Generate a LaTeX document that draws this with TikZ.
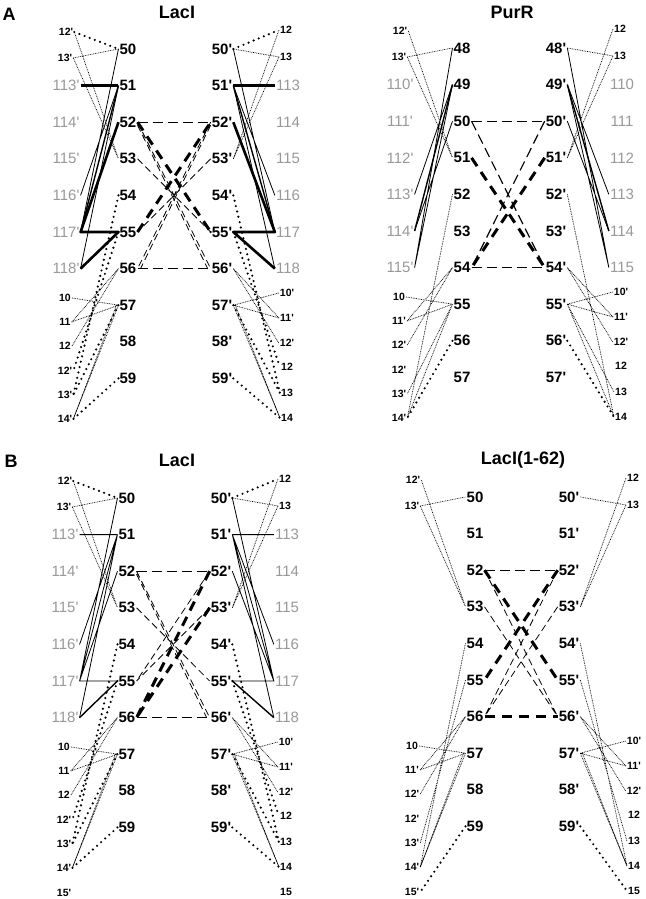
\documentclass[tikz,border=0pt]{standalone}
\usepackage{fontspec}
\setmainfont{Liberation Sans}
\definecolor{lblgray}{gray}{0.6}
\newcommand{\prm}{\textquotesingle}
\tikzset{
  num/.style={font=\fontsize{15}{16}\selectfont\bfseries, inner sep=1pt},
  gry/.style={font=\fontsize{15}{16}\selectfont, text=lblgray, inner sep=1pt},
  sml/.style={font=\fontsize{10.5}{11}\selectfont\bfseries, inner sep=1pt},
  ttl/.style={font=\fontsize{18}{20}\selectfont\bfseries},
  thn/.style={line width=0.8pt},
  med/.style={line width=1.4pt},
  thk/.style={line width=2.6pt, line join=round},
  fdot/.style={line width=0.7pt, dash pattern=on 0.8pt off 0.9pt},
  bigdot/.style={line width=2.4pt, line cap=round, dash pattern=on 0pt off 5.5pt},
  dsh/.style={line width=1.2pt, dash pattern=on 10pt off 5pt},
  dsht/.style={line width=0.8pt, dash pattern=on 7pt off 4pt},
  dshk/.style={line width=3pt, dash pattern=on 10pt off 7pt}
}
\begin{document}
\begin{tikzpicture}[x=1pt,y=-1pt]
  \fill[white] (0,0) rectangle (645,899);
  \useasboundingbox (0,0) rectangle (645,899);
  % titles
  \node[ttl] (lA) at (9,14) {A};
  \node[ttl] (lB) at (11,461) {B};
  \node[ttl] (tAL) at (177,12) {LacI};
  \node[ttl] (tAR) at (512,12) {PurR};
  \node[ttl] (tBL) at (177,460) {LacI};
  \node[ttl] (tBR) at (523,460) {LacI(1-62)};

  % ---- A, LacI ----
  \begin{scope}
    \foreach \n [count=\i from 0] in {50,...,59} {
      \node[num] (a\n) at (128,49+36.6*\i) {\n};
      \node[num] (ap\n) at (222,49+36.6*\i) {\n\prm};
    }
    \foreach \n [count=\i] in {113,...,118} {
      \node[gry] (ag\n) at (66,49+36.6*\i) {\n\prm};
      \node[gry] (ah\n) at (288,49+36.6*\i) {\n};
    }
    \node[sml] (atl1) at (66,32) {12\prm};
    \node[sml] (atl2) at (65,58) {13\prm};
    \node[sml] (atr1) at (286,30) {12};
    \node[sml] (atr2) at (286,57) {13};
    \foreach \t/\y [count=\i] in {10/298, 11/322, 12/346, 12\prm/371, 13\prm/395, 14\prm/419}
      \node[sml] (abl\i) at (65,\y) {\t};
    \foreach \t/\y [count=\i] in {10\prm/293, 11\prm/318, 12\prm/343, 12/367, 13/393, 14/418}
      \node[sml] (abr\i) at (287,\y) {\t};
    % top contacts
    \draw[bigdot] (atl1.east) -- (a50.west) (ap50.east) -- (atr1.west);
    \draw[fdot] (atl2.east) -- (a50.west) (atl1.east) -- (a53.west) (atl2.east) -- (a53.west);
    \draw[fdot] (atr2.west) -- (ap50.east) (atr1.west) -- (ap53.east) (atr2.west) -- (ap53.east);
    % helix contacts
    \draw[thn] (a50.west) -- (ag117.east) (a51.west) -- (ag116.east) (a51.west) -- (ag118.east);
    \draw[med] (a51.west) -- (ag117.east);
    \draw[thk] (ag113.east) -- (a51.west);
    \draw[thk] (a52.west) -- (ag117.east) -- (a55.west) -- (ag118.east);
    \draw[thn] (ap50.east) -- (ah117.west) (ap51.east) -- (ah116.west) (ap51.east) -- (ah118.west);
    \draw[med] (ap51.east) -- (ah117.west);
    \draw[thk] (ah113.west) -- (ap51.east);
    \draw[thk] (ap52.east) -- (ah117.west) -- (ap55.east) -- (ah118.west);
    % hinge
    \draw[dsh] (a52.east) -- (ap52.west);
    \draw[dsh] (a56.east) -- (ap56.west);
    \draw[dsht] (a52.east) -- (ap56.west) ([yshift=-3pt]a52.east) -- ([xshift=-3pt]ap56.west);
    \draw[dsht] (ap52.west) -- (a56.east) ([yshift=-3pt]ap52.west) -- ([xshift=3pt]a56.east);
    \draw[dsht] (a53.east) -- (ap55.west) (ap53.west) -- (a55.east);
    \draw[dshk] (a52.east) -- (ap55.west);
    \draw[dshk] (a55.east) -- (ap52.west);
    \fill (ap55.west) circle (1.3pt);
    % lower contacts
    \draw[fdot] (abl1.east) -- (a57.west) (abl2.east) -- (a57.west) (abl2.east) -- (a56.west)
      (abl3.east) -- (a56.west) (a57.west) -- (abl6.east) ([xshift=-2pt]a57.west) -- (abl6.east);
    \draw[bigdot] (a54.west) -- (abl5.east) (a55.west) -- (abl4.east) (a57.west) -- (abl5.east) (a59.west) -- (abl6.east);
    \draw[fdot] (abr1.west) -- (ap57.east) (abr2.west) -- (ap57.east) (abr2.west) -- (ap56.east)
      (abr3.west) -- (ap56.east) (ap57.east) -- (abr6.west) ([xshift=2pt]ap57.east) -- (abr6.west);
    \draw[bigdot] (ap54.east) -- (abr5.west) (ap55.east) -- (abr4.west) (ap57.east) -- (abr5.west) (ap59.east) -- (abr6.west);
  \end{scope}

  % ---- A, PurR ----
  \begin{scope}[shift={(334,-1)}]
    \foreach \n [count=\i from 0] in {48,...,57} {
      \node[num] (b\n) at (128,49+36.6*\i) {\n};
      \node[num] (bp\n) at (222,49+36.6*\i) {\n\prm};
    }
    \foreach \n [count=\i] in {110,...,115} {
      \node[gry] (bg\n) at (66,49+36.6*\i) {\n\prm};
      \node[gry] (bh\n) at (288,49+36.6*\i) {\n};
    }
    \node[sml] (btl1) at (66,32) {12\prm};
    \node[sml] (btl2) at (65,58) {13\prm};
    \node[sml] (btr1) at (286,30) {12};
    \node[sml] (btr2) at (286,57) {13};
    \foreach \t/\y [count=\i] in {10/298, 11\prm/322, 12\prm/346, 12\prm/371, 13\prm/395, 14\prm/419}
      \node[sml] (bbl\i) at (65,\y) {\t};
    \foreach \t/\y [count=\i] in {10\prm/293, 11\prm/318, 12\prm/343, 12/367, 13/393, 14/418}
      \node[sml] (bbr\i) at (287,\y) {\t};
    % top contacts
    \draw[fdot] (btl2.east) -- (b48.west) (btl1.east) -- (b51.west) (btl2.east) -- (b51.west);
    \draw[fdot] (btr2.west) -- (bp48.east) (btr1.west) -- (bp51.east) (btr2.west) -- (bp51.east);
    % helix contacts
    \draw[thn] (b48.west) -- (bg115.east) (b49.west) -- (bg113.east) (b49.west) -- (bg115.east) (b50.west) -- (bg114.east);
    \draw[med] (b49.west) -- (bg114.east);
    \draw[thn] (bp48.east) -- (bh115.west) (bp49.east) -- (bh113.west) (bp49.east) -- (bh115.west) (bp50.east) -- (bh114.west);
    \draw[med] (bp49.east) -- (bh114.west);
    % hinge
    \draw[dsh] (b50.east) -- (bp50.west);
    \draw[dsh] (b54.east) -- (bp54.west);
    \draw[dsh] (b50.east) -- (bp54.west) (bp50.west) -- (b54.east);
    \draw[dshk] (b51.east) -- (bp54.west);
    \draw[dshk] (bp51.west) -- (b54.east);
    % lower contacts
    \draw[fdot] (bbl1.east) -- (b55.west) (bbl2.east) -- (b55.west) (bbl2.east) -- (b54.west)
      (bbl3.east) -- (b54.west) (b52.west) -- (bbl6.east) (b55.west) -- (bbl5.east) (b55.west) -- (bbl6.east);
    \draw[bigdot] (b56.west) -- (bbl6.east);
    \draw[fdot] (bbr1.west) -- (bp55.east) (bbr2.west) -- (bp55.east) (bbr2.west) -- (bp54.east)
      (bbr3.west) -- (bp54.east) (bp52.east) -- (bbr6.west) (bp55.east) -- (bbr5.west) (bp55.east) -- (bbr6.west);
    \draw[bigdot] (bp56.east) -- (bbr6.west);
  \end{scope}

  % ---- B, LacI ----
  \begin{scope}[shift={(-1,449)}]
    \foreach \n [count=\i from 0] in {50,...,59} {
      \node[num] (c\n) at (128,49+36.6*\i) {\n};
      \node[num] (cp\n) at (222,49+36.6*\i) {\n\prm};
    }
    \foreach \n [count=\i] in {113,...,118} {
      \node[gry] (cg\n) at (66,49+36.6*\i) {\n\prm};
      \node[gry] (ch\n) at (288,49+36.6*\i) {\n};
    }
    \node[sml] (ctl1) at (66,32) {12\prm};
    \node[sml] (ctl2) at (65,58) {13\prm};
    \node[sml] (ctr1) at (286,30) {12};
    \node[sml] (ctr2) at (286,57) {13};
    \foreach \t/\y [count=\i] in {10/298, 11/322, 12/346, 12\prm/371, 13\prm/395, 14\prm/419, 15\prm/444}
      \node[sml] (cbl\i) at (65,\y) {\t};
    \foreach \t/\y [count=\i] in {10\prm/293, 11\prm/318, 12\prm/343, 12/367, 13/393, 14/418, 15/443}
      \node[sml] (cbr\i) at (287,\y) {\t};
    % top contacts
    \draw[bigdot] (ctl1.east) -- (c50.west) (cp50.east) -- (ctr1.west);
    \draw[fdot] (ctl2.east) -- (c50.west) (ctl1.east) -- (c53.west) (ctl2.east) -- (c53.west);
    \draw[fdot] (ctr2.west) -- (cp50.east) (ctr1.west) -- (cp53.east) (ctr2.west) -- (cp53.east);
    % helix contacts
    \draw[thn] (cg113.east) -- (c51.west) (c50.west) -- (cg117.east) (c51.west) -- (cg116.east)
      (c51.west) -- (cg118.east) (c51.west) -- (cg117.east) (c52.west) -- (cg117.east) -- (c55.west);
    \draw[med] (c55.west) -- (cg118.east);
    \draw[thn] (ch113.west) -- (cp51.east) (cp50.east) -- (ch117.west) (cp51.east) -- (ch116.west)
      (cp51.east) -- (ch118.west) (cp51.east) -- (ch117.west) (cp52.east) -- (ch117.west) -- (cp55.east);
    \draw[med] (cp55.east) -- (ch118.west);
    % hinge
    \draw[dsh] (c52.east) -- (cp52.west);
    \draw[dsh] (c56.east) -- (cp56.west);
    \draw[dsht] (c52.east) -- (cp56.west) ([yshift=-3pt]c52.east) -- ([xshift=-3pt]cp56.west);
    \draw[dsht] (c53.east) -- (cp55.west) (cp52.west) -- (c55.east) (cp53.west) -- (c55.east);
    \draw[dshk] (cp52.west) -- (c56.east) (cp53.west) -- (c56.east);
    % lower contacts
    \draw[fdot] (cbl1.east) -- (c57.west) (cbl2.east) -- (c57.west) (cbl2.east) -- (c56.west)
      (cbl3.east) -- (c56.west) (c57.west) -- (cbl6.east) ([xshift=-2pt]c57.west) -- (cbl6.east);
    \draw[bigdot] (c54.west) -- (cbl5.east) (c55.west) -- (cbl4.east) (c57.west) -- (cbl5.east) (c59.west) -- (cbl6.east);
    \draw[fdot] (cbr1.west) -- (cp57.east) (cbr2.west) -- (cp57.east) (cbr2.west) -- (cp56.east)
      (cbr3.west) -- (cp56.east) (cp57.east) -- (cbr6.west) ([xshift=2pt]cp57.east) -- (cbr6.west);
    \draw[bigdot] (cp54.east) -- (cbr5.west) (cp55.east) -- (cbr4.west) (cp57.east) -- (cbr5.west) (cp59.east) -- (cbr6.west);
  \end{scope}

  % ---- B, LacI(1-62) ----
  \begin{scope}[shift={(347,448)}]
    \foreach \n [count=\i from 0] in {50,...,59} {
      \node[num] (d\n) at (128,49+36.6*\i) {\n};
      \node[num] (dp\n) at (222,49+36.6*\i) {\n\prm};
    }
    \node[sml] (dtl1) at (66,32) {12\prm};
    \node[sml] (dtl2) at (65,58) {13\prm};
    \node[sml] (dtr1) at (286,30) {12};
    \node[sml] (dtr2) at (286,57) {13};
    \foreach \t/\y [count=\i] in {10/298, 11\prm/322, 12\prm/346, 12\prm/371, 13\prm/395, 14\prm/419, 15\prm/444}
      \node[sml] (dbl\i) at (65,\y) {\t};
    \foreach \t/\y [count=\i] in {10\prm/293, 11\prm/318, 12\prm/343, 12/367, 13/393, 14/418, 15/443}
      \node[sml] (dbr\i) at (287,\y) {\t};
    % top contacts
    \draw[fdot] (dtl2.east) -- (d50.west) (dtl1.east) -- (d53.west) (dtl2.east) -- (d53.west);
    \draw[fdot] (dtr2.west) -- (dp50.east) (dtr1.west) -- (dp53.east) (dtr2.west) -- (dp53.east);
    % hinge
    \draw[dsh] (d52.east) -- (dp52.west);
    \draw[dshk] (d56.east) -- (dp56.west);
    \draw[dsht] (d52.east) -- (dp56.west) (d53.east) -- (dp56.west) (dp52.west) -- (d56.east) (dp53.west) -- (d56.east);
    \draw[dshk] (d52.east) -- (dp55.west) (dp52.west) -- (d55.east);
    % lower contacts
    \draw[fdot] (dbl1.east) -- (d57.west) (dbl2.east) -- (d57.west) (dbl2.east) -- (d56.west)
      (dbl3.east) -- (d56.west) (d54.west) -- (dbl6.east) (d55.west) -- (dbl5.east)
      (d57.west) -- (dbl6.east) ([xshift=-2pt]d57.west) -- (dbl6.east);
    \draw[bigdot] (d59.west) -- (dbl7.east);
    \draw[fdot] (dbr1.west) -- (dp57.east) (dbr2.west) -- (dp57.east) (dbr2.west) -- (dp56.east)
      (dbr3.west) -- (dp56.east) (dp54.east) -- (dbr6.west) (dp55.east) -- (dbr5.west)
      (dp57.east) -- (dbr6.west) ([xshift=2pt]dp57.east) -- (dbr6.west);
    \draw[bigdot] (dp59.east) -- (dbr7.west);
  \end{scope}
\end{tikzpicture}
\end{document}
